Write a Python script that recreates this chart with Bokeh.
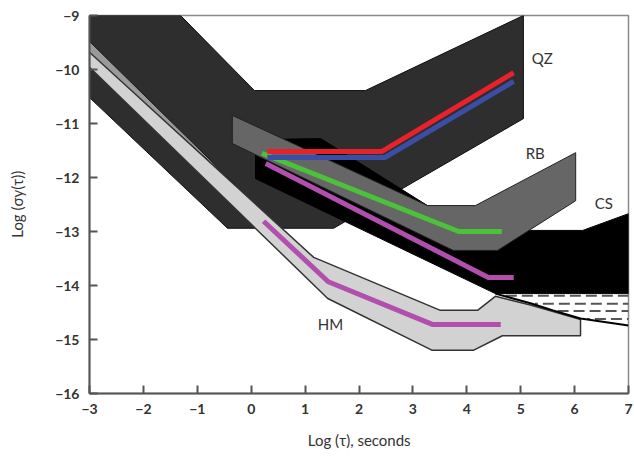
import numpy as np
from bokeh.plotting import figure
from bokeh.models import Range1d, FixedTicker, Label
from bokeh.embed import file_html
from bokeh.resources import INLINE

# ---------------- data (log tau, log sigma) ----------------
x_ticks = [-3, -2, -1, 0, 1, 2, 3, 4, 5, 6, 7]
y_ticks = [-16, -15, -14, -13, -12, -11, -10, -9]

# QZ region (dark)
qz_x = [-3, -1.31, 0.06, 2.12, 5.05, 5.05, 1.53, -0.44, -3]
qz_y = [-9, -9, -10.39, -10.39, -9, -10.91, -12.94, -12.94, -10.52]

# CS region (black)
cs_x = [0.08, 1.29, 3.27, 5.18, 6.15, 7.0, 7.0, 4.53, 0.08]
cs_y = [-11.3, -11.28, -12.52, -12.98, -12.98, -12.67, -14.15, -14.15, -12.02]

# RB region (grey)
rb_x = [-0.35, 3.27, 4.16, 6.02, 6.02, 4.57, 3.75, -0.35]
rb_y = [-10.85, -12.52, -12.52, -11.54, -12.43, -13.35, -13.35, -11.37]

# limit curve (lower bound of dashed area)
curve_x = [4.53, 5.18, 5.6, 6.11, 7.0]
curve_y = [-14.15, -14.33, -14.46, -14.61, -14.74]
dash_rows = [-14.19, -14.34, -14.47, -14.62]

# thin strip above HM band
strip_x = [-3, -0.3, -3]
strip_y = [-9.48, -12.13, -9.7]

# HM region (light grey)
hm_x = [-3, 1.16, 3.51, 4.2, 4.53, 5.18, 5.6, 6.11, 6.11, 4.66, 4.12, 3.36, 1.42, -3]
hm_y = [-9.68, -13.48, -14.46, -14.46, -14.2, -14.36, -14.48, -14.63, -14.93,
        -14.93, -15.2, -15.2, -14.24, -9.96]

# measured lines
red_x = [0.3, 2.42, 4.87]
red_y = [-11.52, -11.52, -10.06]
blue_x = [0.3, 2.48, 4.87]
blue_y = [-11.63, -11.63, -10.22]
green_x = [0.2, 3.85, 4.65]
green_y = [-11.55, -13.0, -13.0]
mag_cs_x = [0.27, 4.4, 4.87]
mag_cs_y = [-11.74, -13.85, -13.85]
mag_hm_x = [0.23, 1.43, 3.36, 4.63]
mag_hm_y = [-12.81, -13.93, -14.72, -14.72]

labels = ["QZ", "RB", "CS", "HM"]
label_x = [5.4, 5.27, 6.54, 1.47]
label_y = [-9.78, -11.55, -12.48, -14.72]

# ---------------- figure ----------------
FONT = "Lato"
p = figure(width=634, height=456, x_range=Range1d(-3, 7), y_range=Range1d(-16, -9),
           output_backend="svg", toolbar_location=None,
           min_border_left=89, min_border_right=6, min_border_top=15, min_border_bottom=63,
           background_fill_color="white", border_fill_color="white")
p.xgrid.visible = False
p.ygrid.visible = False
p.outline_line_color = "#8a8a8a"
p.outline_line_width = 1.5

p.patch(qz_x, qz_y, fill_color="#2e2e2e", line_color="#111111", line_width=1)
p.patch(cs_x, cs_y, fill_color="#000000", line_color="#000000", line_width=1)
p.patch(strip_x, strip_y, fill_color="#9a9a9a", line_color="#1a1a1a", line_width=1)
p.patch(hm_x, hm_y, fill_color="#d2d2d2", line_color="#333333", line_width=1.5)
p.patch(rb_x, rb_y, fill_color="#666666", line_color="#222222", line_width=1)

# dashed area
cx = np.array(curve_x)
cy = np.array(curve_y)
for i, ry in enumerate(dash_rows):
    xs = float(np.interp(-ry, -cy, cx)) + 0.05
    p.line([xs, 7.0], [ry, ry], line_color="#555555", line_width=2,
           line_dash="11 5", line_dash_offset=(i % 2) * 8)
p.line(curve_x, curve_y, line_color="#000000", line_width=2)

# measured lines
p.line(mag_hm_x, mag_hm_y, line_color="#b24fae", line_width=5)
p.line(mag_cs_x, mag_cs_y, line_color="#b24fae", line_width=5)
p.line(green_x, green_y, line_color="#4cc23b", line_width=5)
p.line(blue_x, blue_y, line_color="#3a4ea6", line_width=5)
p.line(red_x, red_y, line_color="#e8212b", line_width=5)

for t, lx, ly in zip(labels, label_x, label_y):
    p.add_layout(Label(x=lx, y=ly, text=t, text_align="center", text_baseline="middle",
                       text_font=FONT, text_font_size="15px", text_color="#333333"))

def fmt(v):
    return ("\u2212" + str(abs(v))) if v < 0 else str(v)

for ax, ticks in ((p.xaxis, x_ticks), (p.yaxis, y_ticks)):
    ax.ticker = FixedTicker(ticks=ticks)
    ax.major_label_overrides = {v: fmt(v) for v in ticks}
    ax.minor_tick_line_color = None
    ax.major_tick_in = 8
    ax.major_tick_out = 0
    ax.major_tick_line_color = "#555555"
    ax.major_tick_line_width = 2
    ax.axis_line_color = "#555555"
    ax.axis_line_width = 2
    ax.major_label_text_font = FONT
    ax.major_label_text_font_size = "14px"
    ax.major_label_text_font_style = "bold"
    ax.major_label_text_color = "#333333"
    ax.axis_label_text_font = FONT
    ax.axis_label_text_font_size = "15px"
    ax.axis_label_text_font_style = "normal"
    ax.axis_label_text_color = "#333333"

p.xaxis.axis_label = "Log (\u03c4), seconds"
p.yaxis.axis_label = "Log (\u03c3y(\u03c4))"
p.xaxis.major_label_standoff = 10
p.yaxis.major_label_standoff = 10
p.xaxis.axis_label_standoff = 14
p.yaxis.axis_label_standoff = 26

open("out.html", "w").write(file_html(p, INLINE))
